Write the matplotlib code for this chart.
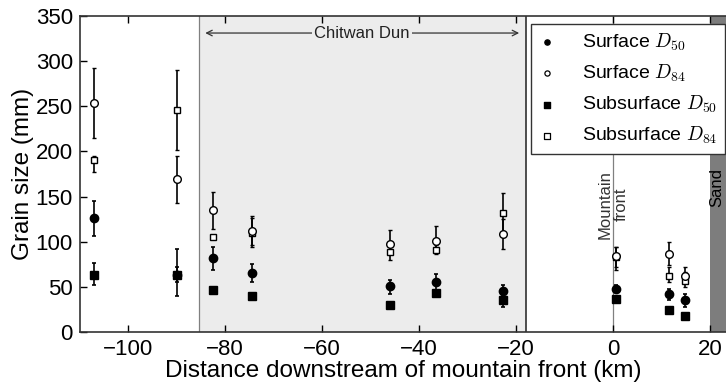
import matplotlib
matplotlib.use("Agg")
import matplotlib.pyplot as plt
import numpy as np

plt.rcParams['font.family'] = ['Liberation Sans', 'DejaVu Sans']
plt.rcParams['mathtext.fontset'] = 'cm'

# distance downstream of mountain front (km)
x = [-107, -90, -82.5, -74.5, -46, -36.5, -22.7, 0.6, 11.5, 14.8]

surf_d50 = [126, 63, 82, 65, 51, 55, 45, 48, 42, 35]
surf_d50_lo = [106, 40, 69, 55, 42, 47, 38, 44, 36, 28]
surf_d50_hi = [145, 92, 94, 75, 58, 64, 52, 52, 48, 42]

surf_d84 = [254, 169, 135, 112, 98, 101, 108, 84, 86, 62]
surf_d84_lo = [215, 143, 114, 96, 86, 91, 92, 72, 74, 55]
surf_d84_hi = [292, 195, 155, 126, 113, 117, 125, 94, 100, 72]

sub_d50 = [63, 63, 47, 40, 30, 43, 35, 37, 24, 18]
sub_d50_lo = [52, 55, 47, 40, 30, 43, 28, 37, 24, 18]
sub_d50_hi = [76, 72, 47, 40, 30, 43, 40, 37, 24, 18]

sub_d84 = [190, 246, 105, 110, 89, 91, 132, 83, 62, 56]
sub_d84_lo = [177, 201, 105, 94, 80, 86, 110, 69, 55, 50]
sub_d84_hi = [195, 290, 105, 128, 96, 96, 154, 94, 72, 66]

chitwan = (-85.5, -18)
sand_start = 20

fig = plt.figure(figsize=(7.26, 3.87), dpi=100)
ax = fig.add_axes([0.110, 0.142, 0.89, 0.817])

ax.axvspan(chitwan[0], chitwan[1], color='#ececec', zorder=0, lw=0)
ax.axvline(chitwan[0], color='#808080', lw=0.9, zorder=1)
ax.axvline(chitwan[1], color='#303030', lw=1.2, zorder=1)
ax.axvspan(sand_start, 40, color='#7d7d7d', zorder=0, lw=0)
ax.axvline(0, color='#808080', lw=0.9, zorder=1)

def errs(v, lo, hi):
    v = np.array(v); lo = np.array(lo); hi = np.array(hi)
    return [v - lo, hi - v]

kw = dict(ls='none', ecolor='black', elinewidth=1.2, capsize=1.5, capthick=1.2, zorder=3)
ax.errorbar(x, sub_d84, yerr=errs(sub_d84, sub_d84_lo, sub_d84_hi), marker='s', ms=5,
            mfc='white', mec='black', mew=1.0, **kw)
ax.errorbar(x, surf_d84, yerr=errs(surf_d84, surf_d84_lo, surf_d84_hi), marker='o', ms=5.5,
            mfc='white', mec='black', mew=1.0, **kw)
ax.errorbar(x, surf_d50, yerr=errs(surf_d50, surf_d50_lo, surf_d50_hi), marker='o', ms=6,
            mfc='black', mec='black', **kw)
ax.errorbar(x, sub_d50, yerr=errs(sub_d50, sub_d50_lo, sub_d50_hi), marker='s', ms=5.5,
            mfc='black', mec='black', **kw)

h1 = ax.scatter([], [], marker='o', s=14, c='black')
h2 = ax.scatter([], [], marker='o', s=14, facecolors='white', edgecolors='black', linewidths=0.9)
h3 = ax.scatter([], [], marker='s', s=14, c='black')
h4 = ax.scatter([], [], marker='s', s=14, facecolors='white', edgecolors='black', linewidths=0.9)
leg = ax.legend([h1, h2, h3, h4],
                ['Surface $D_{50}$', 'Surface $D_{84}$', 'Subsurface $D_{50}$', 'Subsurface $D_{84}$'],
                loc='upper right', bbox_to_anchor=(0.9985, 0.975), fontsize=14,
                frameon=True, fancybox=False, edgecolor='#333333', framealpha=1,
                handletextpad=1.4, borderpad=0.4, labelspacing=0.5, handlelength=0.8,
                borderaxespad=0.0)
leg.get_frame().set_linewidth(1.0)

# Chitwan Dun arrow
ax.annotate('', xy=(chitwan[0] + 0.8, 331), xytext=(chitwan[1] - 0.8, 331),
            arrowprops=dict(arrowstyle='<->', color='#333333', lw=0.9,
                            mutation_scale=10), zorder=2)
ax.text((chitwan[0] + chitwan[1]) / 2, 331, 'Chitwan Dun', ha='center', va='center',
        fontsize=12, color='#222222', zorder=3,
        bbox=dict(facecolor='#ececec', edgecolor='none', pad=1.5))

ax.text(0, 141, 'Mountain\nfront', rotation=90, ha='center', va='center',
        fontsize=12, color='#333333', linespacing=1.1)
ax.text(21.5, 160, 'Sand', rotation=90, ha='center', va='center', fontsize=12, color='black')

ax.set_xlim(-110, 23.3)
ax.set_ylim(0, 350)
ax.set_xticks([-100, -80, -60, -40, -20, 0, 20])
ax.set_yticks(range(0, 351, 50))
ax.set_xticklabels(['\u2212100', '\u221280', '\u221260', '\u221240', '\u221220', '0', '20'])
ax.tick_params(direction='in', labelsize=16, length=5, width=1, top=True, right=False)
ax.tick_params(axis='x', pad=5)
ax.tick_params(axis='y', pad=5)
for s in ax.spines.values():
    s.set_color('#333333')
    s.set_linewidth(1.2)
ax.spines['right'].set_visible(False)

ax.set_xlabel('Distance downstream of mountain front (km)', fontsize=17.5, labelpad=0)
ax.set_ylabel('Grain size (mm)', fontsize=17.5, labelpad=1)

fig.savefig('out.png', dpi=100)
